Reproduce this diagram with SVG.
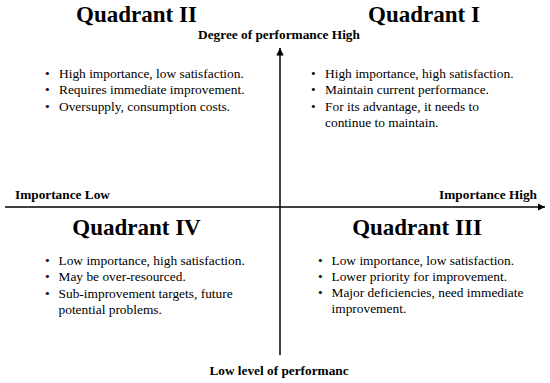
<svg xmlns="http://www.w3.org/2000/svg" width="550" height="383" viewBox="0 0 550 383">
<defs>
<style>
text { font-family: "Liberation Serif", "Times New Roman", serif; fill: #000; }
.title { font-size: 23px; font-weight: bold; text-anchor: middle; }
.axis-label { font-size: 13.3px; font-weight: bold; }
.item { font-size: 13.4px; }
.axis { stroke: #000; stroke-width: 1.5; fill: none; }
</style>
<marker id="arrow" viewBox="0 0 10 10" refX="10" refY="5" markerWidth="5" markerHeight="5" orient="auto" markerUnits="strokeWidth">
<path d="M0,0 L10,5 L0,10 Z" fill="#000"/>
</marker>
</defs>
<rect width="550" height="383" fill="#fff"/>
<g id="connectors">
<line class="axis" x1="280" y1="355" x2="280" y2="48" marker-end="url(#arrow)"/>
<line class="axis" x1="5" y1="207" x2="545" y2="207" marker-end="url(#arrow)"/>
</g>
<g id="axis-labels">
<text class="axis-label" x="279" y="39" text-anchor="middle">Degree of performance High</text>
<text class="axis-label" x="15" y="199">Importance Low</text>
<text class="axis-label" x="537" y="198.5" text-anchor="end">Importance High</text>
<text class="axis-label" x="279" y="375" text-anchor="middle">Low level of performanc</text>
</g>
<g id="quadrant-2">
<text class="title" x="136.5" y="22">Quadrant II</text>
<text class="item" x="45" y="78">•</text><text class="item" x="59" y="78">High importance, low satisfaction.</text>
<text class="item" x="45" y="94.3">•</text><text class="item" x="59" y="94.3">Requires immediate improvement.</text>
<text class="item" x="45" y="110.6">•</text><text class="item" x="59" y="110.6">Oversupply, consumption costs.</text>
</g>
<g id="quadrant-1">
<text class="title" x="424" y="22">Quadrant I</text>
<text class="item" x="311" y="78">•</text><text class="item" x="325" y="78">High importance, high satisfaction.</text>
<text class="item" x="311" y="94.3">•</text><text class="item" x="325" y="94.3">Maintain current performance.</text>
<text class="item" x="311" y="110.6">•</text><text class="item" x="325" y="110.6">For its advantage, it needs to</text>
<text class="item" x="325" y="126.9">continue to maintain.</text>
</g>
<g id="quadrant-4">
<text class="title" x="136.5" y="235">Quadrant IV</text>
<text class="item" x="45" y="265">•</text><text class="item" x="58.5" y="265">Low importance, high satisfaction.</text>
<text class="item" x="45" y="281.3">•</text><text class="item" x="58.5" y="281.3">May be over-resourced.</text>
<text class="item" x="45" y="297.6">•</text><text class="item" x="58.5" y="297.6">Sub-improvement targets, future</text>
<text class="item" x="58.5" y="313.9">potential problems.</text>
</g>
<g id="quadrant-3">
<text class="title" x="417" y="235">Quadrant III</text>
<text class="item" x="318" y="264.5">•</text><text class="item" x="331.5" y="264.5">Low importance, low satisfaction.</text>
<text class="item" x="318" y="280.8">•</text><text class="item" x="331.5" y="280.8">Lower priority for improvement.</text>
<text class="item" x="318" y="297.1">•</text><text class="item" x="331.5" y="297.1">Major deficiencies, need immediate</text>
<text class="item" x="331.5" y="313.4">improvement.</text>
</g>
</svg>
